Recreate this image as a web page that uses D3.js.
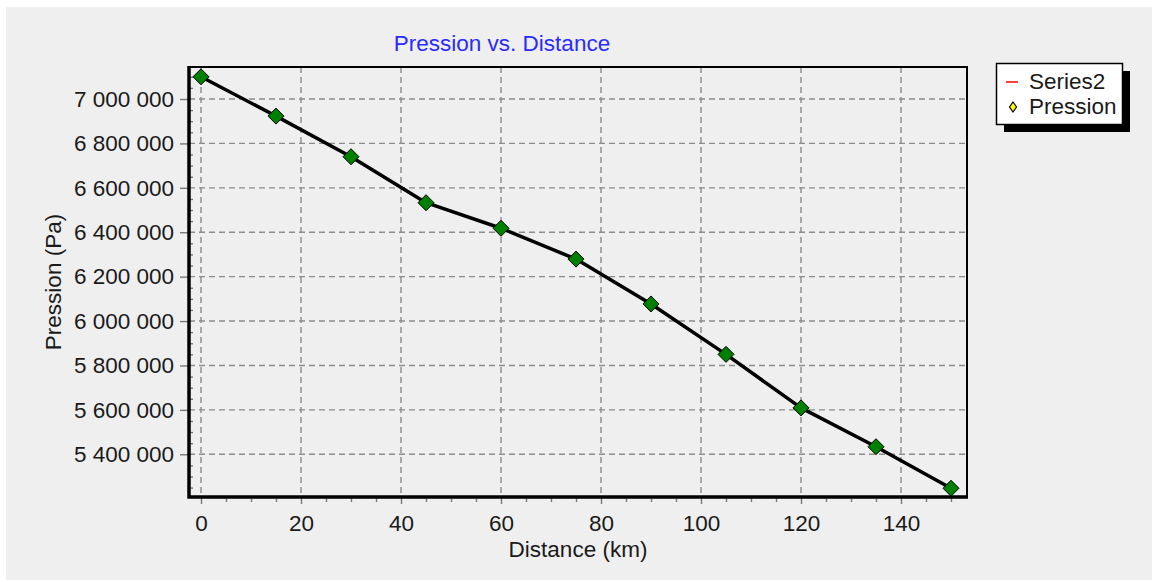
<!DOCTYPE html>
<html lang="fr">
<head>
  <meta charset="UTF-8">
  <title>Pression vs. Distance</title>
  <script src="https://cdn.jsdelivr.net/npm/d3@7"></script>
  <style>
    body { margin: 0; background: #fff; }
    svg text { font-family: "Liberation Sans", Arial, sans-serif; }
  </style>
</head>
<body>

  <div id="container"></div>

  <script>
    // Données
    const distances = [0, 15, 30, 45, 60, 75, 90, 105, 120, 135, 150];
    const pressions = [7100000, 6923000, 6740000, 6533000, 6418000, 6279000,
                       6077000, 5850000, 5609000, 5434000, 5247000];
    const xTicks = [0, 20, 40, 60, 80, 100, 120, 140];
    const yTicks = [5400000, 5600000, 5800000, 6000000, 6200000, 6400000, 6600000, 6800000, 7000000];
    const titre = "Pression vs. Distance";
    const titreX = "Distance (km)";
    const titreY = "Pression (Pa)";
    const legende = ["Series2", "Pression"];

    const width = 1158;
    const height = 582;
    const plotLeft = 189, plotRight = 967, plotTop = 67, plotBottom = 497;
    const fontSize = 22.5;

    const x = d3.scaleLinear().domain([-2.4, 153.2]).range([plotLeft, plotRight]);
    const y = d3.scaleLinear().domain([5207658, 7144144]).range([plotBottom, plotTop]);

    const locale = d3.formatLocale({ decimal: ",", thousands: "\u00a0", grouping: [3], currency: ["", ""] });
    const fmt = locale.format(",");

    const svg = d3.select("#container")
      .append("svg")
      .attr("width", width)
      .attr("height", height)
      .attr("viewBox", [0, 0, width, height]);

    // Fond gris
    svg.append("rect")
      .attr("x", 6).attr("y", 7)
      .attr("width", 1146).attr("height", 573)
      .attr("fill", "#efefef");

    // Titre
    svg.append("text")
      .attr("x", 502).attr("y", 51)
      .attr("text-anchor", "middle")
      .attr("font-size", fontSize)
      .attr("fill", "#2a2aff")
      .text(titre);

    // Grille
    const grid = svg.append("g")
      .attr("stroke", "#8c8c8c")
      .attr("stroke-width", 1.4)
      .attr("stroke-dasharray", "6,4");
    grid.selectAll("line.v")
      .data(xTicks)
      .join("line")
      .attr("class", "v")
      .attr("x1", d => x(d)).attr("x2", d => x(d))
      .attr("y1", plotTop).attr("y2", plotBottom);
    grid.selectAll("line.h")
      .data(yTicks)
      .join("line")
      .attr("class", "h")
      .attr("x1", plotLeft).attr("x2", plotRight)
      .attr("y1", d => y(d)).attr("y2", d => y(d));

    // Axe X : graduations majeures et mineures
    const xMinor = d3.range(0, 155, 5).filter(d => d % 20 !== 0);
    svg.append("g")
      .attr("transform", `translate(0,${plotBottom})`)
      .call(d3.axisBottom(x).tickValues(xMinor).tickSize(5).tickFormat(""))
      .call(g => g.select(".domain").remove())
      .call(g => g.selectAll(".tick line").attr("stroke", "#777").attr("stroke-width", 1.4));

    svg.append("g")
      .attr("transform", `translate(0,${plotBottom})`)
      .call(d3.axisBottom(x).tickValues(xTicks).tickSize(7).tickPadding(11).tickFormat(d3.format("d")))
      .call(g => g.select(".domain").remove())
      .call(g => g.selectAll(".tick line").attr("stroke", "#777").attr("stroke-width", 1.4))
      .call(g => g.selectAll(".tick text")
        .attr("font-size", fontSize)
        .attr("font-family", "Liberation Sans, Arial, sans-serif")
        .attr("fill", "#1a1a1a"));

    // Axe Y : graduations mineures (vers l'intérieur) et majeures
    const yMinor = d3.range(5250000, 7150000, 50000).filter(d => d % 200000 !== 0);
    svg.append("g")
      .attr("transform", `translate(${plotLeft},0)`)
      .call(d3.axisRight(y).tickValues(yMinor).tickSize(4).tickFormat(""))
      .call(g => g.select(".domain").remove())
      .call(g => g.selectAll(".tick line").attr("stroke", "#777").attr("stroke-width", 1.4));

    svg.append("g")
      .attr("transform", `translate(${plotLeft},0)`)
      .call(d3.axisLeft(y).tickValues(yTicks).tickSize(9).tickPadding(6).tickFormat(fmt))
      .call(g => g.select(".domain").remove())
      .call(g => g.selectAll(".tick line").attr("stroke", "#777").attr("stroke-width", 1.4))
      .call(g => g.selectAll(".tick text")
        .attr("font-size", fontSize)
        .attr("font-family", "Liberation Sans, Arial, sans-serif")
        .attr("fill", "#1a1a1a"));

    // Cadre
    svg.append("path")
      .attr("d", `M${plotLeft},${plotTop}H${plotRight}V${plotBottom}`)
      .attr("fill", "none")
      .attr("stroke", "#000")
      .attr("stroke-width", 2);
    svg.append("path")
      .attr("d", `M${plotLeft},${plotTop - 1}V${plotBottom}H${plotRight + 1}`)
      .attr("fill", "none")
      .attr("stroke", "#000")
      .attr("stroke-width", 3.5);

    // Titres des axes
    svg.append("text")
      .attr("x", (plotLeft + plotRight) / 2).attr("y", 557)
      .attr("text-anchor", "middle")
      .attr("font-size", fontSize)
      .attr("fill", "#1a1a1a")
      .text(titreX);

    svg.append("text")
      .attr("transform", `translate(61,${(plotTop + plotBottom) / 2}) rotate(-90)`)
      .attr("text-anchor", "middle")
      .attr("font-size", fontSize)
      .attr("fill", "#1a1a1a")
      .text(titreY);

    // Courbe
    const points = distances.map((d, i) => [d, pressions[i]]);
    svg.append("path")
      .datum(points)
      .attr("fill", "none")
      .attr("stroke", "#000")
      .attr("stroke-width", 3.5)
      .attr("stroke-linejoin", "round")
      .attr("d", d3.line().x(d => x(d[0])).y(d => y(d[1])));

    // Marqueurs losanges
    const diamond = s => `M0,${-s}L${s},0L0,${s}L${-s},0Z`;
    svg.append("g")
      .selectAll("path")
      .data(points)
      .join("path")
      .attr("transform", d => `translate(${x(d[0])},${y(d[1])})`)
      .attr("d", diamond(8))
      .attr("fill", "#008000")
      .attr("stroke", "#000")
      .attr("stroke-width", 1);

    // Légende
    const leg = svg.append("g");
    leg.append("rect")
      .attr("x", 1004).attr("y", 71)
      .attr("width", 126).attr("height", 61)
      .attr("fill", "#000");
    leg.append("rect")
      .attr("x", 996.5).attr("y", 63.5)
      .attr("width", 126).attr("height", 61)
      .attr("fill", "#fff")
      .attr("stroke", "#000")
      .attr("stroke-width", 1.5);
    leg.append("line")
      .attr("x1", 1006).attr("x2", 1018)
      .attr("y1", 82).attr("y2", 82)
      .attr("stroke", "#ff0000")
      .attr("stroke-width", 1.5);
    leg.append("path")
      .attr("transform", "translate(1013,107)")
      .attr("d", "M0,-5L3.5,0L0,5L-3.5,0Z")
      .attr("fill", "#ffff00")
      .attr("stroke", "#000")
      .attr("stroke-width", 1.2);
    leg.selectAll("text")
      .data(legende)
      .join("text")
      .attr("x", 1029)
      .attr("y", (d, i) => 89 + i * 25)
      .attr("font-size", fontSize)
      .attr("fill", "#1a1a1a")
      .text(d => d);
  </script>

</body>
</html>
